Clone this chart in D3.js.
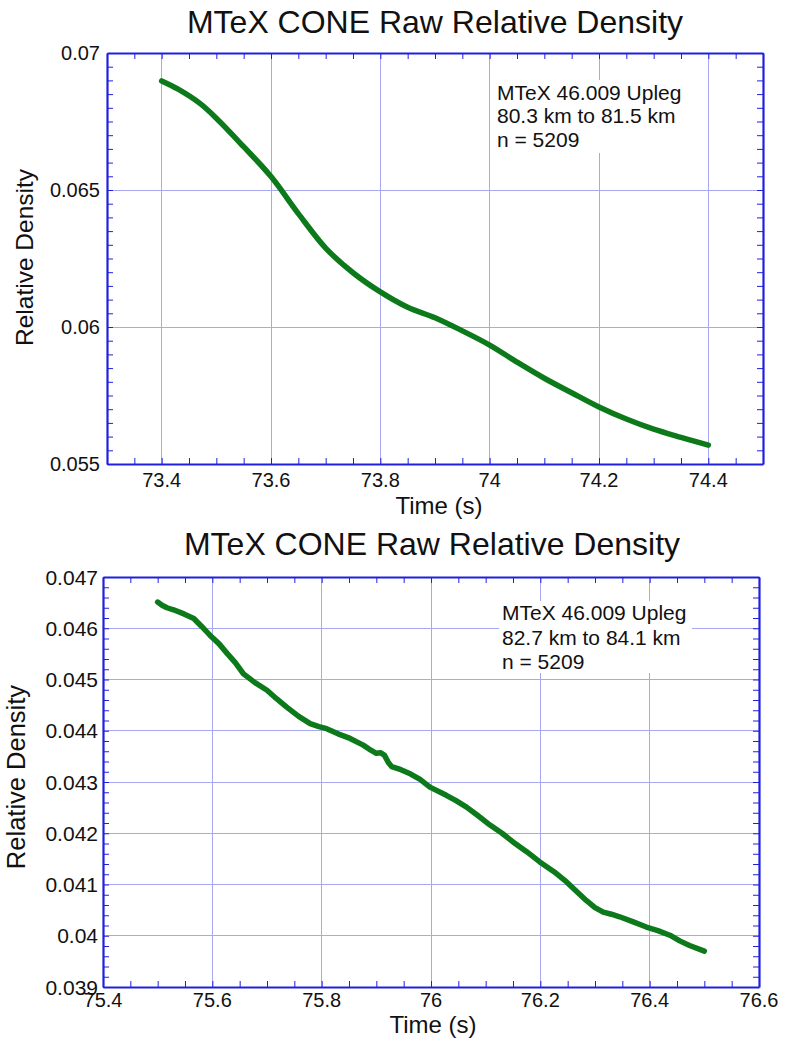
<!DOCTYPE html>
<html>
<head>
<meta charset="utf-8">
<script src="https://cdn.jsdelivr.net/npm/d3@7"></script>
<style>
  html, body { margin: 0; padding: 0; background: #fff; }
  svg { display: block; font-family: "Liberation Sans", Arial, sans-serif; }
</style>
</head>
<body>
<svg id="chart" width="786" height="1043"></svg>
<script>
// ---- Upper panel: 80.3 km to 81.5 km ----
const upperTime = [73.40, 73.43, 73.47, 73.50, 73.55, 73.60, 73.65, 73.70, 73.75, 73.80, 73.85,
                   73.90, 73.95, 74.00, 74.05, 74.10, 74.15, 74.20, 74.25, 74.30, 74.35, 74.40];
const upperDensity = [0.06898, 0.06868, 0.06816, 0.06762, 0.06658, 0.06549, 0.06414, 0.06288, 0.06198,
                      0.06128, 0.06072, 0.06034, 0.05986, 0.05934, 0.05872, 0.05813, 0.05760,
                      0.05708, 0.05664, 0.05627, 0.05597, 0.05569];
const upperXTicks = [73.4, 73.6, 73.8, 74.0, 74.2, 74.4];
const upperYTicks = [0.055, 0.06, 0.065, 0.07];
const upperNote = ["MTeX 46.009 Upleg", "80.3 km to 81.5 km", "n = 5209"];

// ---- Lower panel: 82.7 km to 84.1 km ----
const lowerTime = [75.500, 75.508, 75.517, 75.529, 75.548, 75.566, 75.580, 75.596, 75.612, 75.627, 75.642,
                   75.657, 75.678, 75.700, 75.718, 75.736, 75.758, 75.779, 75.795, 75.809, 75.830, 75.852,
                   75.876, 75.890, 75.900, 75.908, 75.915, 75.922, 75.928, 75.945, 75.962, 75.980, 75.998,
                   76.028, 76.045, 76.065, 76.085, 76.108, 76.130, 76.150, 76.175, 76.199, 76.225, 76.248,
                   76.265, 76.284, 76.300, 76.315, 76.330, 76.345, 76.370, 76.394, 76.415, 76.437, 76.455,
                   76.473, 76.500];
const lowerDensity = [0.04651, 0.04645, 0.04640, 0.04636, 0.04628, 0.04619, 0.04604, 0.04586, 0.04570, 0.04551,
                      0.04533, 0.04511, 0.04494, 0.04479, 0.04462, 0.04446, 0.04428, 0.04414, 0.04408, 0.04404,
                      0.04394, 0.04385, 0.04372, 0.04362, 0.04356, 0.04357, 0.04352, 0.04338, 0.04330, 0.04324,
                      0.04316, 0.04305, 0.04290, 0.04274, 0.04264, 0.04251, 0.04235, 0.04216, 0.04200, 0.04183,
                      0.04164, 0.04144, 0.04125, 0.04105, 0.04088, 0.04069, 0.04055, 0.04046, 0.04042, 0.04037,
                      0.04027, 0.04017, 0.04010, 0.04001, 0.03990, 0.03981, 0.03970];
const lowerXTicks = [75.4, 75.6, 75.8, 76.0, 76.2, 76.4, 76.6];
const lowerYTicks = [0.039, 0.04, 0.041, 0.042, 0.043, 0.044, 0.045, 0.046, 0.047];
const lowerNote = ["MTeX 46.009 Upleg", "82.7 km to 84.1 km", "n = 5209"];

const chartTitle = "MTeX CONE Raw Relative Density";
const xTitle = "Time (s)";
const yTitle = "Relative Density";

const AXIS = "#2020dc";
const GRID = "#a8a8f2";
const LINE = "#0c7a1a";

const svg = d3.select("#chart");

function panel(cfg) {
  const g = svg.append("g");
  const x = d3.scaleLinear().domain(cfg.xDomain).range([cfg.left, cfg.right]);
  const y = d3.scaleLinear().domain(cfg.yDomain).range([cfg.bottom, cfg.top]);

  // grid at major ticks
  g.append("g").selectAll("line").data(cfg.xTicks).join("line")
    .attr("x1", d => x(d)).attr("x2", d => x(d))
    .attr("y1", cfg.top).attr("y2", cfg.bottom)
    .attr("stroke", GRID).attr("stroke-width", 1).attr("shape-rendering", "crispEdges");
  g.append("g").selectAll("line").data(cfg.yTicks).join("line")
    .attr("x1", cfg.left).attr("x2", cfg.right)
    .attr("y1", d => y(d)).attr("y2", d => y(d))
    .attr("stroke", GRID).attr("stroke-width", 1).attr("shape-rendering", "crispEdges");

  // white box behind the annotation
  const nb = cfg.noteBox;
  g.append("rect").attr("x", nb[0]).attr("y", nb[1]).attr("width", nb[2] - nb[0]).attr("height", nb[3] - nb[1])
    .attr("fill", "#fff");

  // inward ticks on all four sides (majors and minors)
  const xMinor = d3.range(Math.round((cfg.xDomain[1] - cfg.xDomain[0]) / cfg.xMinor) + 1)
    .map(i => cfg.xDomain[0] + i * cfg.xMinor);
  const yMinor = d3.range(Math.round((cfg.yDomain[1] - cfg.yDomain[0]) / cfg.yMinor) + 1)
    .map(i => cfg.yDomain[0] + i * cfg.yMinor);

  const bottomAxis = d3.axisBottom(x).tickValues(xMinor).tickSizeInner(-6).tickSizeOuter(0).tickFormat("");
  const topAxis = d3.axisTop(x).tickValues(xMinor).tickSizeInner(-6).tickSizeOuter(0).tickFormat("");
  const leftAxis = d3.axisLeft(y).tickValues(yMinor).tickSizeInner(-6).tickSizeOuter(0).tickFormat("");
  const rightAxis = d3.axisRight(y).tickValues(yMinor).tickSizeInner(-6).tickSizeOuter(0).tickFormat("");

  const axes = [
    [bottomAxis, `translate(0,${cfg.bottom})`],
    [topAxis, `translate(0,${cfg.top})`],
    [leftAxis, `translate(${cfg.left},0)`],
    [rightAxis, `translate(${cfg.right},0)`]
  ];
  axes.forEach(([ax, tr]) => {
    const a = g.append("g").attr("transform", tr).call(ax);
    a.select(".domain").attr("stroke", AXIS).attr("stroke-width", 2.2);
    a.selectAll(".tick line").attr("stroke", AXIS).attr("stroke-width", 1);
  });

  // tick labels
  g.append("g").selectAll("text").data(cfg.xTicks).join("text")
    .attr("x", d => x(d)).attr("y", cfg.bottom + cfg.xLabelDy)
    .attr("text-anchor", "middle").attr("font-size", cfg.xTickFont).attr("fill", "#111")
    .text(d => cfg.xFmt(d));
  g.append("g").selectAll("text").data(cfg.yTicks).join("text")
    .attr("x", cfg.left - cfg.yLabelDx).attr("y", d => y(d)).attr("dy", "0.36em")
    .attr("text-anchor", "end").attr("font-size", cfg.yTickFont).attr("fill", "#111")
    .text(d => cfg.yFmt(d));

  // titles
  g.append("text").attr("x", cfg.titleX).attr("y", cfg.titleY)
    .attr("text-anchor", "middle").attr("font-size", 32).attr("fill", "#111").text(chartTitle);
  g.append("text").attr("x", cfg.xTitleX).attr("y", cfg.xTitleY)
    .attr("text-anchor", "middle").attr("font-size", 24).attr("fill", "#111").text(xTitle);
  g.append("text")
    .attr("transform", `translate(${cfg.yTitleX},${(cfg.top + cfg.bottom) / 2 + cfg.yTitleShift}) rotate(-90)`)
    .attr("text-anchor", "middle").attr("font-size", cfg.yTitleFont).attr("fill", "#111").text(yTitle);

  // density trace
  const pts = cfg.time.map((t, i) => [t, cfg.density[i]]);
  g.append("path").datum(pts)
    .attr("fill", "none").attr("stroke", LINE).attr("stroke-width", 5.5)
    .attr("stroke-linecap", "round").attr("stroke-linejoin", "round")
    .attr("d", d3.line().x(d => x(d[0])).y(d => y(d[1])).curve(cfg.curve));

  // annotation
  const note = g.append("text").attr("font-size", 21).attr("fill", "#111");
  cfg.note.forEach((s, i) => {
    note.append("tspan").attr("x", cfg.noteX).attr("y", cfg.noteY + i * cfg.noteGap).text(s);
  });
}

const fmtTrim = d => String(+d.toFixed(4));

panel({
  xDomain: [73.3, 74.5], yDomain: [0.055, 0.07],
  left: 107, right: 763, top: 53, bottom: 464,
  xTicks: upperXTicks, yTicks: upperYTicks, xMinor: 0.05, yMinor: 0.0005,
  xFmt: fmtTrim, yFmt: fmtTrim, xTickFont: 20, yTickFont: 20, xLabelDy: 23, yLabelDx: 7,
  titleX: 435, titleY: 33, xTitleX: 439, xTitleY: 514, yTitleX: 33, yTitleShift: -1, yTitleFont: 24.5,
  time: upperTime, density: upperDensity, curve: d3.curveCatmullRom.alpha(0.5),
  note: upperNote, noteX: 497, noteY: 100, noteGap: 23.3, noteBox: [493, 80, 695, 153]
});

panel({
  xDomain: [75.4, 76.6], yDomain: [0.039, 0.047],
  left: 103, right: 759, top: 577, bottom: 987,
  xTicks: lowerXTicks, yTicks: lowerYTicks, xMinor: 0.05, yMinor: 0.0002,
  xFmt: fmtTrim, yFmt: fmtTrim, xTickFont: 20, yTickFont: 21, xLabelDy: 20, yLabelDx: 5,
  titleX: 432, titleY: 555, xTitleX: 433, xTitleY: 1033, yTitleX: 25, yTitleShift: -5, yTitleFont: 25.5,
  time: lowerTime, density: lowerDensity, curve: d3.curveLinear,
  note: lowerNote, noteX: 502, noteY: 620, noteGap: 24.6, noteBox: [499, 601, 692, 673]
});
</script>
</body>
</html>
